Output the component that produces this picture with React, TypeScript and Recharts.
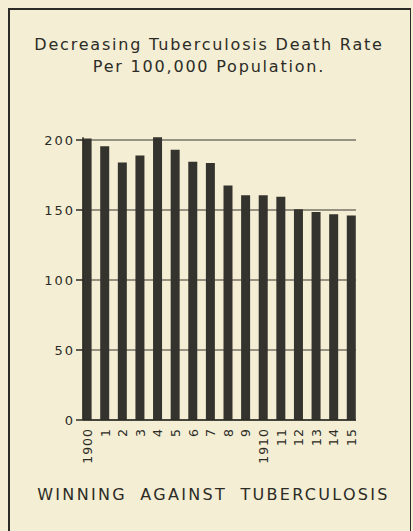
import React from 'react'
import { BarChart, Bar, XAxis, YAxis, CartesianGrid } from 'recharts'

// tuberculosis deaths per 100,000, 1900-1915
const years = ['1900', '1', '2', '3', '4', '5', '6', '7', '8', '9', '1910', '11', '12', '13', '14', '15']
const deathRates = [201, 195.5, 184, 189, 202, 193, 184.5, 183.5, 167.5, 160.5, 160.5, 159.5, 150.5, 148.5, 147, 146]
const rateTicks = [0, 50, 100, 150, 200]

const data = years.map((year, i) => ({ year, rate: deathRates[i] }))

const ink = '#2c2b26'
const paper = '#f3eed4'
const font = '"DejaVu Sans", sans-serif'

const YTick = (props: any) => {
  const { x, y, payload } = props
  return (
    <text x={x} y={y} dy="0.36em" textAnchor="end" fill={ink} fontFamily={font} fontSize={13} letterSpacing={2}>
      {payload.value}
    </text>
  )
}

const XTick = (props: any) => {
  const { x, y, payload } = props
  return (
    <text
      x={x}
      y={y}
      dy="0.36em"
      textAnchor="end"
      transform={`rotate(-90, ${x}, ${y})`}
      fill={ink}
      fontFamily={font}
      fontSize={12.5}
      letterSpacing={1}
    >
      {payload.value}
    </text>
  )
}

const App = () => {
  return (
    <div style={{ position: 'fixed', left: 0, top: 0, width: 413, height: 531, background: paper, overflow: 'hidden' }}>
      {/* plate border, runs off the bottom */}
      <div
        style={{
          position: 'absolute',
          left: 8,
          top: 8,
          width: 400,
          height: 560,
          borderTop: `2px solid ${ink}`,
          borderLeft: `2.5px solid ${ink}`,
          borderRight: `1.5px solid ${ink}`,
        }}
      />
      <div
        style={{
          position: 'absolute',
          left: 0,
          top: 34,
          width: 418,
          textAlign: 'center',
          fontFamily: font,
          fontSize: 16,
          lineHeight: '22px',
          letterSpacing: 1.8,
          color: ink,
        }}
      >
        Decreasing Tuberculosis Death Rate
        <br />
        Per 100,000 Population.
      </div>
      <div style={{ position: 'absolute', left: 0, top: 0 }}>
        <BarChart width={413} height={531} data={data} margin={{ top: 137.2, right: 57, bottom: 71, left: 43 }}>
          {/* only the labelled rates; the 200 line doubles as the frame top */}
          <CartesianGrid yAxisId="left" vertical={false} syncWithTicks stroke="#38372f" strokeWidth={1} />
          <XAxis
            dataKey="year"
            interval={0}
            height={40}
            padding={{ left: -4.4, right: -4.4 }}
            axisLine={{ stroke: ink, strokeWidth: 1.5 }}
            tickLine={false}
            tickSize={0}
            tickMargin={8}
            tick={<XTick />}
          />
          <YAxis
            yAxisId="left"
            domain={[0, 202]}
            ticks={rateTicks}
            width={40}
            axisLine={{ stroke: ink, strokeWidth: 1.5 }}
            tickLine={{ stroke: ink, strokeWidth: 1.5 }}
            tickSize={7}
            tickMargin={1}
            tick={<YTick />}
          />
          <YAxis
            yAxisId="right"
            orientation="right"
            domain={[0, 202]}
            ticks={rateTicks}
            width={0}
            tick={false}
            tickLine={false}
            axisLine={{ stroke: ink, strokeWidth: 1.5 }}
          />
          <Bar yAxisId="left" dataKey="rate" barSize={9} fill="#34332d" isAnimationActive={false} />
        </BarChart>
      </div>
      <div
        style={{
          position: 'absolute',
          left: 0,
          top: 484,
          width: 427,
          textAlign: 'center',
          fontFamily: font,
          fontSize: 16,
          lineHeight: '22px',
          letterSpacing: 2.3,
          wordSpacing: 6,
          color: ink,
        }}
      >
        WINNING AGAINST TUBERCULOSIS
      </div>
    </div>
  )
}

export default App
